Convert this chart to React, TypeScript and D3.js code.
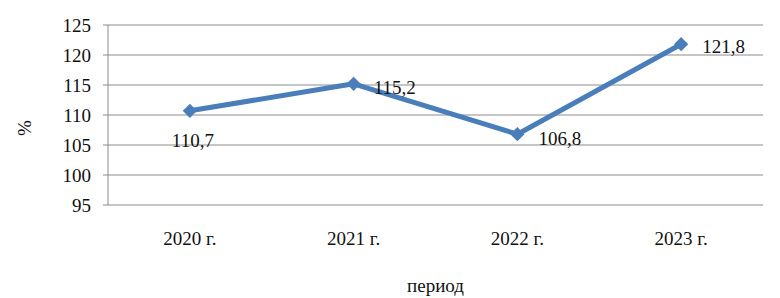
import React from 'react';
import * as d3 from 'd3';

const categories = ['2020 г.', '2021 г.', '2022 г.', '2023 г.'];
const values = [110.7, 115.2, 106.8, 121.8];
const yTicks = [95, 100, 105, 110, 115, 120, 125];
// label placement relative to point: [dx, dy, anchor]
const labelPos: [number, number, string][] = [
  [3, 30, 'middle'],
  [20, 4, 'start'],
  [21, 4, 'start'],
  [21, 2, 'start'],
];

const width = 780;
const height = 298;
const margin = { top: 25, right: 17, bottom: 93, left: 108 };
const innerWidth = width - margin.left - margin.right;
const innerHeight = height - margin.top - margin.bottom;

const textStyle: React.CSSProperties = {
  fontFamily: "'Liberation Serif'",
  fontSize: '19px',
  fill: '#111',
};

const App: React.FC = () => {
  const x = d3.scaleBand<string>().domain(categories).range([0, innerWidth]);
  const y = d3.scaleLinear().domain([95, 125]).range([innerHeight, 0]);
  const cx = (i: number) => (x(categories[i]) || 0) + x.bandwidth() / 2;

  const linePath = d3.line<number>()
    .x((_, i) => cx(i))
    .y(d => y(d))(values) || '';
  const diamond = d3.symbol().type(d3.symbolDiamond2).size(130)() || '';

  return (
    <svg
      width={width}
      height={height}
      style={{ position: 'absolute', left: 0, top: 0, background: '#fff' }}
    >
      <g transform={`translate(${margin.left},${margin.top})`}>
        {/* grid lines */}
        {yTicks.map(t => (
          <line key={t} x1={-5} x2={innerWidth} y1={y(t)} y2={y(t)} stroke="#8c8c8c" />
        ))}
        <line x1={0} x2={0} y1={0} y2={innerHeight} stroke="#8c8c8c" />

        {/* y tick labels */}
        {yTicks.map(t => (
          <text key={t} x={-17} y={y(t)} dy="0.35em" textAnchor="end" style={textStyle}>
            {t}
          </text>
        ))}

        {/* x labels */}
        {categories.map((c, i) => (
          <text key={c} x={cx(i)} y={innerHeight + 40} textAnchor="middle" style={textStyle}>
            {c}
          </text>
        ))}

        <path d={linePath} fill="none" stroke="#4a7ebb" strokeWidth={5} strokeLinejoin="round" />

        {values.map((v, i) => (
          <path key={i} d={diamond} transform={`translate(${cx(i)},${y(v)})`} fill="#4a7ebb" />
        ))}

        {/* data labels */}
        {values.map((v, i) => (
          <text
            key={i}
            x={cx(i) + labelPos[i][0]}
            y={y(v) + labelPos[i][1]}
            dy="0.35em"
            textAnchor={labelPos[i][2] as any}
            style={textStyle}
          >
            {v.toFixed(1).replace('.', ',')}
          </text>
        ))}
      </g>

      <text x={margin.left + innerWidth / 2} y={292} textAnchor="middle" style={textStyle}>
        период
      </text>
      <text
        transform="translate(31,128) rotate(-90)"
        textAnchor="middle"
        style={textStyle}
      >
        %
      </text>
    </svg>
  );
};

export default App;
